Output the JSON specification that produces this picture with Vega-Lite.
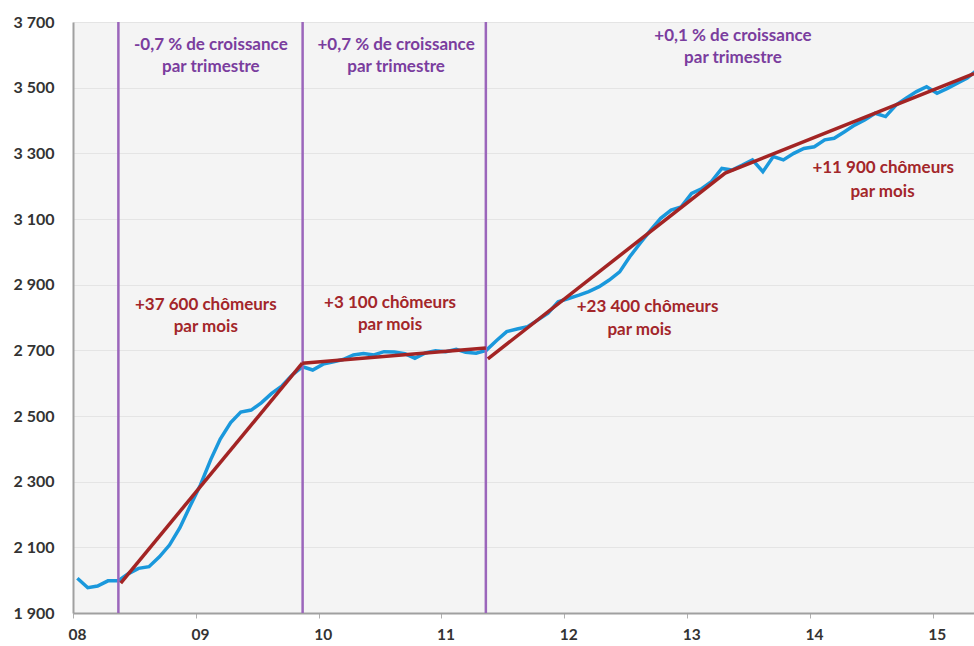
{
  "$schema": "https://vega.github.io/schema/vega-lite/v6.json",
  "width": 901,
  "height": 591,
  "autosize": {"type": "none"},
  "padding": {"left": 73, "top": 22, "right": 0, "bottom": 33},
  "background": "white",
  "config": {"view": {"fill": "#f4f4f4", "stroke": null}, "font": "Lato"},
  "datasets": {
    "blue": [
      {"date": "2008-01-14", "v": 2006}, {"date": "2008-02-14", "v": 1977}, {"date": "2008-03-14", "v": 1982},
      {"date": "2008-04-14", "v": 1998}, {"date": "2008-05-14", "v": 1998}, {"date": "2008-06-14", "v": 2020},
      {"date": "2008-07-14", "v": 2036}, {"date": "2008-08-14", "v": 2041}, {"date": "2008-09-14", "v": 2071},
      {"date": "2008-10-14", "v": 2107}, {"date": "2008-11-14", "v": 2160}, {"date": "2008-12-14", "v": 2225},
      {"date": "2009-01-14", "v": 2290}, {"date": "2009-02-14", "v": 2368}, {"date": "2009-03-14", "v": 2430},
      {"date": "2009-04-14", "v": 2480}, {"date": "2009-05-14", "v": 2512}, {"date": "2009-06-14", "v": 2518},
      {"date": "2009-07-14", "v": 2540}, {"date": "2009-08-14", "v": 2569}, {"date": "2009-09-14", "v": 2592},
      {"date": "2009-10-14", "v": 2625}, {"date": "2009-11-14", "v": 2650}, {"date": "2009-12-14", "v": 2640},
      {"date": "2010-01-14", "v": 2658}, {"date": "2010-02-14", "v": 2665}, {"date": "2010-03-14", "v": 2672},
      {"date": "2010-04-14", "v": 2686}, {"date": "2010-05-14", "v": 2690}, {"date": "2010-06-14", "v": 2686},
      {"date": "2010-07-14", "v": 2696}, {"date": "2010-08-14", "v": 2695}, {"date": "2010-09-14", "v": 2690},
      {"date": "2010-10-14", "v": 2676}, {"date": "2010-11-14", "v": 2692}, {"date": "2010-12-14", "v": 2699},
      {"date": "2011-01-14", "v": 2696}, {"date": "2011-02-14", "v": 2703}, {"date": "2011-03-14", "v": 2694},
      {"date": "2011-04-14", "v": 2691}, {"date": "2011-05-14", "v": 2700}, {"date": "2011-06-14", "v": 2730},
      {"date": "2011-07-14", "v": 2757}, {"date": "2011-08-14", "v": 2765}, {"date": "2011-09-14", "v": 2772},
      {"date": "2011-10-14", "v": 2792}, {"date": "2011-11-14", "v": 2813}, {"date": "2011-12-14", "v": 2848},
      {"date": "2012-01-14", "v": 2858}, {"date": "2012-02-14", "v": 2868}, {"date": "2012-03-14", "v": 2879},
      {"date": "2012-04-14", "v": 2894}, {"date": "2012-05-14", "v": 2914}, {"date": "2012-06-14", "v": 2939},
      {"date": "2012-07-14", "v": 2985}, {"date": "2012-08-14", "v": 3026}, {"date": "2012-09-14", "v": 3066},
      {"date": "2012-10-14", "v": 3102}, {"date": "2012-11-14", "v": 3127}, {"date": "2012-12-14", "v": 3137},
      {"date": "2013-01-14", "v": 3178}, {"date": "2013-02-14", "v": 3193}, {"date": "2013-03-14", "v": 3214},
      {"date": "2013-04-14", "v": 3254}, {"date": "2013-05-14", "v": 3249}, {"date": "2013-06-14", "v": 3264},
      {"date": "2013-07-14", "v": 3280}, {"date": "2013-08-14", "v": 3244}, {"date": "2013-09-14", "v": 3290},
      {"date": "2013-10-14", "v": 3280}, {"date": "2013-11-14", "v": 3300}, {"date": "2013-12-14", "v": 3315},
      {"date": "2014-01-14", "v": 3320}, {"date": "2014-02-14", "v": 3341}, {"date": "2014-03-14", "v": 3346},
      {"date": "2014-04-14", "v": 3366}, {"date": "2014-05-14", "v": 3386}, {"date": "2014-06-14", "v": 3402},
      {"date": "2014-07-14", "v": 3422}, {"date": "2014-08-14", "v": 3412}, {"date": "2014-09-14", "v": 3447},
      {"date": "2014-10-14", "v": 3468}, {"date": "2014-11-14", "v": 3488}, {"date": "2014-12-14", "v": 3503},
      {"date": "2015-01-14", "v": 3483}, {"date": "2015-02-14", "v": 3498}, {"date": "2015-03-14", "v": 3513},
      {"date": "2015-04-14", "v": 3529}, {"date": "2015-05-14", "v": 3555}
    ],
    "trend": [
      {"seg": "A", "date": "2008-05-22", "v": 1991},
      {"seg": "A", "date": "2009-11-13", "v": 2661},
      {"seg": "B", "date": "2009-11-13", "v": 2661},
      {"seg": "B", "date": "2011-05-13", "v": 2707},
      {"seg": "C", "date": "2011-05-19", "v": 2674},
      {"seg": "C", "date": "2013-04-24", "v": 3240},
      {"seg": "C", "date": "2015-05-04", "v": 3543}
    ],
    "breaks": [
      {"date": "2008-05-15"},
      {"date": "2009-11-14"},
      {"date": "2011-05-13"}
    ],
    "labelsPurple": [
      {"t": "-0,7 % de croissance", "date": "2009-02-14", "v": 3630},
      {"t": "par trimestre", "date": "2009-02-14", "v": 3563},
      {"t": "+0,7 % de croissance", "date": "2010-08-19", "v": 3630},
      {"t": "par trimestre", "date": "2010-08-19", "v": 3563},
      {"t": "+0,1 % de croissance", "date": "2013-05-17", "v": 3657},
      {"t": "par trimestre", "date": "2013-05-17", "v": 3590}
    ],
    "labelsRed": [
      {"t": "+37 600 chômeurs", "date": "2009-01-30", "v": 2838},
      {"t": "par mois", "date": "2009-01-30", "v": 2771},
      {"t": "+3 100 chômeurs", "date": "2010-08-01", "v": 2844},
      {"t": "par mois", "date": "2010-08-01", "v": 2777},
      {"t": "+23 400 chômeurs", "date": "2012-09-05", "v": 2832},
      {"t": "par mois", "date": "2012-08-12", "v": 2762},
      {"t": "+11 900 chômeurs", "date": "2014-08-07", "v": 3255},
      {"t": "par mois", "date": "2014-08-05", "v": 3182}
    ]
  },
  "layer": [
    {
      "data": {"name": "blue"},
      "mark": {"type": "line", "color": "#1a98dc", "strokeWidth": 3.5, "clip": true},
      "encoding": {
        "x": {
          "field": "date", "type": "temporal", "title": null,
          "scale": {"type": "utc", "domain": [{"year": 2008, "month": 1, "date": 1, "utc": true}, {"year": 2015, "month": 5, "date": 4, "utc": true}]},
          "axis": {
            "values": [
              {"year": 2008, "month": 1, "date": 1, "utc": true},
              {"year": 2009, "month": 1, "date": 1, "utc": true},
              {"year": 2010, "month": 1, "date": 1, "utc": true},
              {"year": 2011, "month": 1, "date": 1, "utc": true},
              {"year": 2012, "month": 1, "date": 1, "utc": true},
              {"year": 2013, "month": 1, "date": 1, "utc": true},
              {"year": 2014, "month": 1, "date": 1, "utc": true},
              {"year": 2015, "month": 1, "date": 1, "utc": true}
            ],
            "labelExpr": "utcFormat(datum.value, '%y')",
            "grid": false,
            "tickColor": "#b0b0b0", "tickSize": 5, "tickWidth": 1,
            "domainColor": "#a0a0a0", "domainWidth": 2,
            "labelFont": "Lato", "labelFontSize": 15.5, "labelFontWeight": "bold", "labelColor": "#333333",
            "labelPadding": 9, "labelOffset": 4, "labelFlush": false, "labelOverlap": false
          }
        },
        "y": {
          "field": "v", "type": "quantitative", "title": null,
          "scale": {"domain": [1900, 3700], "nice": false, "zero": false},
          "axis": {
            "values": [1900, 2100, 2300, 2500, 2700, 2900, 3100, 3300, 3500, 3700],
            "labelExpr": "replace(format(datum.value, ',d'), ',', ' ')",
            "grid": true, "gridColor": "#e4e4e4", "gridWidth": 1,
            "ticks": false,
            "domainColor": "#a0a0a0", "domainWidth": 2,
            "labelFont": "Lato", "labelFontSize": 16, "labelFontWeight": "bold", "labelColor": "#333333",
            "labelPadding": 19, "labelFlush": false, "labelOverlap": false
          }
        }
      }
    },
    {
      "data": {"name": "breaks"},
      "mark": {"type": "rule", "color": "#9b66bb", "strokeWidth": 2.5},
      "encoding": {
        "x": {"field": "date", "type": "temporal", "title": null}
      }
    },
    {
      "data": {"name": "trend"},
      "mark": {"type": "line", "color": "#a32424", "strokeWidth": 3.5, "clip": true},
      "encoding": {
        "x": {"field": "date", "type": "temporal", "title": null},
        "y": {"field": "v", "type": "quantitative", "title": null},
        "detail": {"field": "seg", "type": "nominal"}
      }
    },
    {
      "data": {"name": "labelsPurple"},
      "mark": {"type": "text", "color": "#7a3d9e", "font": "Lato", "fontSize": 17, "fontWeight": "bold", "align": "center", "baseline": "middle"},
      "encoding": {
        "x": {"field": "date", "type": "temporal", "title": null},
        "y": {"field": "v", "type": "quantitative", "title": null},
        "text": {"field": "t", "type": "nominal"}
      }
    },
    {
      "data": {"name": "labelsRed"},
      "mark": {"type": "text", "color": "#a3262a", "font": "Lato", "fontSize": 17, "fontWeight": "bold", "align": "center", "baseline": "middle"},
      "encoding": {
        "x": {"field": "date", "type": "temporal", "title": null},
        "y": {"field": "v", "type": "quantitative", "title": null},
        "text": {"field": "t", "type": "nominal"}
      }
    }
  ]
}
